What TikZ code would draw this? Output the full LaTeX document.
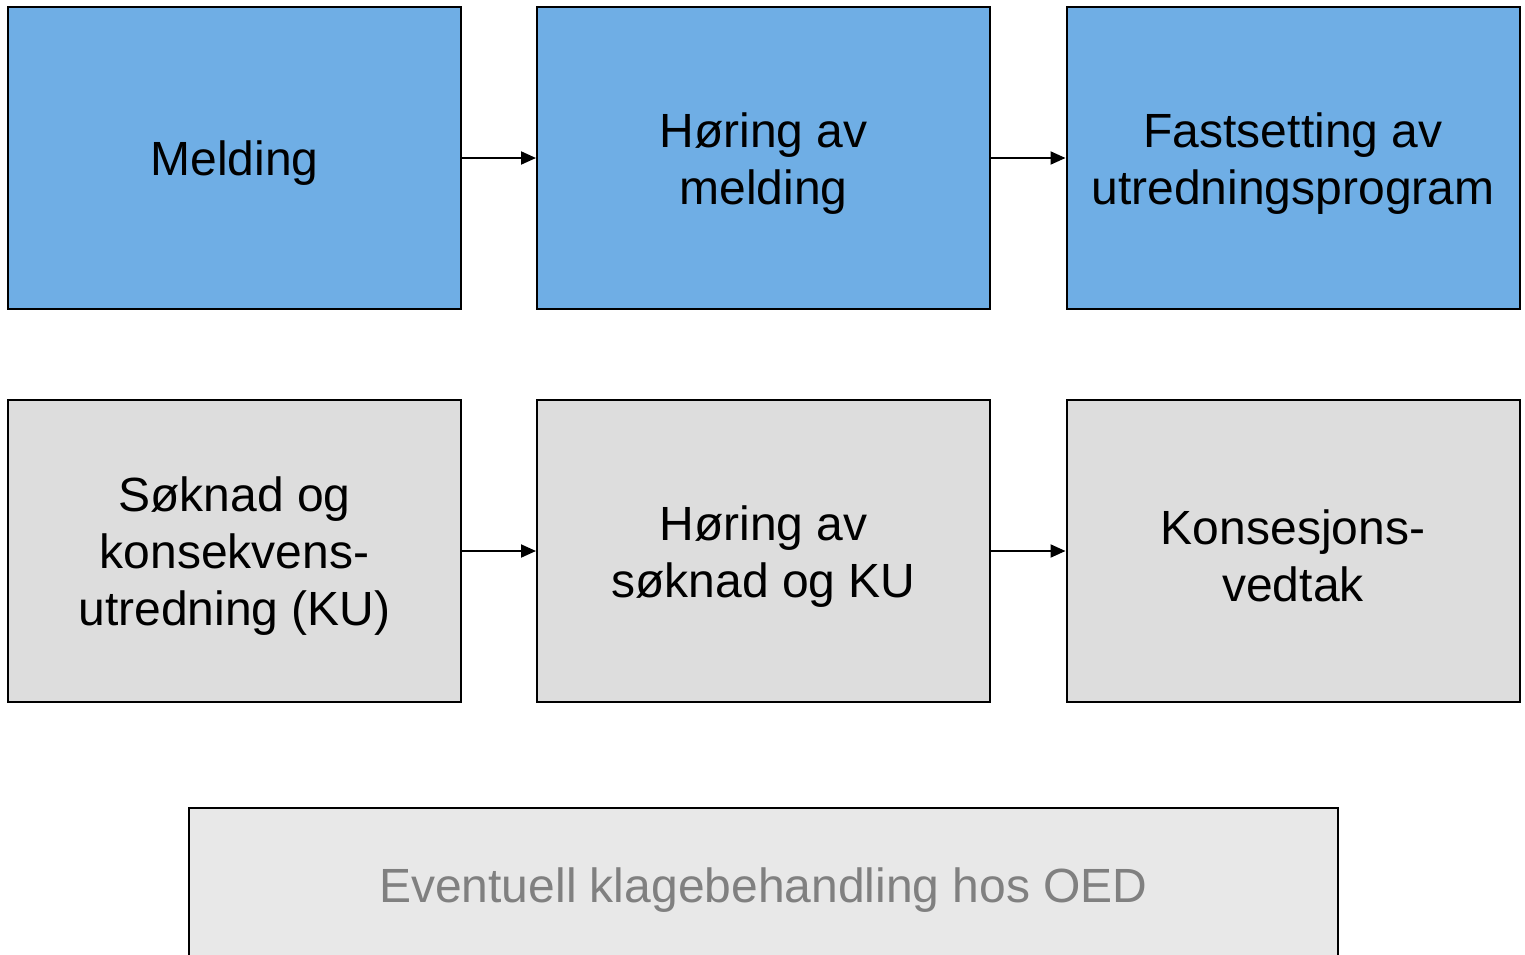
\documentclass[tikz,border=0pt]{standalone}
\usepackage{fontspec}
\setmainfont{Liberation Sans}
\usetikzlibrary{arrows.meta}

\definecolor{stepblue}{HTML}{6FAEE5}
\definecolor{stepgrey}{HTML}{DDDDDD}
\definecolor{appealgrey}{HTML}{E8E8E8}
\definecolor{appealtext}{HTML}{808080}

\newcommand{\tallstrut}{\rule{0pt}{45pt}}

\tikzset{
  stepbox/.style = {draw = black, line width = 2pt, minimum width = 453pt, minimum height = 302pt,
    inner sep = 0pt, align = center, font = \fontsize{48}{57}\selectfont},
  flow/.style = {-{Triangle[length = 15pt, width = 13pt]}, line width = 2pt}
}

\begin{document}
\begin{tikzpicture}[x = 1pt, y = -1pt]
		\useasboundingbox (0,0) rectangle (1525,954);
		% first row
		\node[stepbox, fill = stepblue] (melding) at (234.5,158) {\tallstrut Melding};
		\node[stepbox, fill = stepblue] (horMelding) at (763.5,158) {\tallstrut Høring av\\melding};
		\node[stepbox, fill = stepblue] (fastsetting) at (1293,158) {\tallstrut Fastsetting av\\utredningsprogram};
		% second row
		\node[stepbox, fill = stepgrey] (soknad) at (234.5,551) {\tallstrut Søknad og\\konsekvens-\\utredning (KU)};
		\node[stepbox, fill = stepgrey] (horSoknad) at (763.5,551) {\tallstrut Høring av\\søknad og KU};
		\node[stepbox, fill = stepgrey] (vedtak) at (1293,551) {\tallstrut Konsesjons-\\vedtak};
		% appeal
		\node[stepbox, fill = appealgrey, text = appealtext, minimum width = 1149pt, minimum height = 154pt] (klage) at (763.5,885) {\tallstrut Eventuell klagebehandling hos OED};
		\draw[flow] (melding) -- (horMelding);
		\draw[flow] (horMelding) -- (fastsetting);
		\draw[flow] (soknad) -- (horSoknad);
		\draw[flow] (horSoknad) -- (vedtak);
	\end{tikzpicture}
\end{document}
